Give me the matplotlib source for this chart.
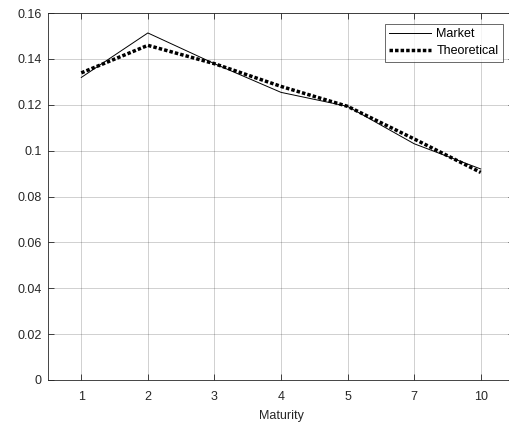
import matplotlib
matplotlib.use("Agg")
import matplotlib.pyplot as plt

plt.rcParams["font.family"] = ["Liberation Sans", "DejaVu Sans"]

maturities = ["1", "2", "3", "4", "5", "7", "10"]
market = [0.1319, 0.1513, 0.1379, 0.1254, 0.1193, 0.1030, 0.0920]
theoretical = [0.1339, 0.1459, 0.1379, 0.1280, 0.1193, 0.1051, 0.0905]
y_ticks = [0, 0.02, 0.04, 0.06, 0.08, 0.1, 0.12, 0.14, 0.16]
y_labels = ["0", "0.02", "0.04", "0.06", "0.08", "0.1", "0.12", "0.14", "0.16"]

fig = plt.figure(figsize=(5.1, 4.28), dpi=100)
ax = fig.add_axes([48 / 510, 48 / 428, 466 / 510, 367 / 428])

x = list(range(1, len(maturities) + 1))
ax.plot(x, market, color="black", linewidth=0.7, label="Market")
ax.plot(x, theoretical, color="black", linewidth=2.5, linestyle=(0, (1, 0.6)),
        label="Theoretical")

ax.set_xlim(0.5, len(maturities) + 0.5)
ax.set_ylim(0, 0.16)
ax.set_xticks(x)
ax.set_xticklabels(maturities)
ax.set_yticks(y_ticks)
ax.set_yticklabels(y_labels)
ax.tick_params(direction="in", top=True, right=True, labelsize=9, length=4,
               width=0.6, colors="#262626", pad=4.5)
ax.tick_params(axis="x", pad=8)
ax.grid(True, color="#262626", alpha=0.25, linewidth=0.6)
ax.set_axisbelow(True)
for sp in ax.spines.values():
    sp.set_linewidth(0.6)
    sp.set_color("#262626")
ax.set_xlabel("Maturity", fontsize=9, color="#262626", labelpad=5)

# legend box sits ~11 px from the top and ends at x ~503 px
leg = ax.legend(loc="upper right", bbox_to_anchor=((503 - 48) / 466, 1 - 11 / 367),
                fontsize=9, frameon=True, fancybox=False, borderpad=0.35,
                handlelength=3.4, handletextpad=0.4, labelspacing=0.4,
                borderaxespad=0)
leg.get_frame().set_edgecolor("#262626")
leg.get_frame().set_linewidth(0.6)

fig.savefig("out.png", dpi=100)
